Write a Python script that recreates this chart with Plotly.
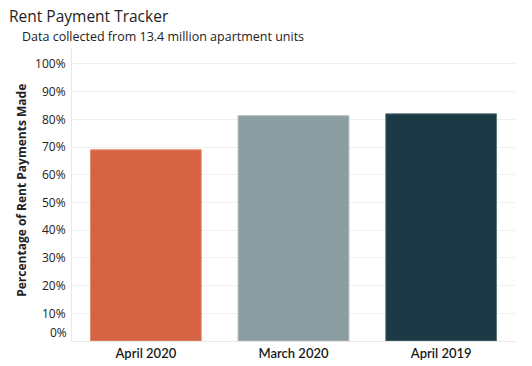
import plotly.graph_objects as go

categories = ["April 2020", "March 2020", "April 2019"]
values = [0.690, 0.813, 0.820]
bar_colors = ["#D66444", "#8C9DA1", "#1B3A45"]
bar_edge = ["#E68A6C", "#A9B6B9", "#5C7379"]
tick_values = [0.1, 0.2, 0.3, 0.4, 0.5, 0.6, 0.7, 0.8, 0.9, 1.0]
tick_labels = ["10%", "20%", "30%", "40%", "50%", "60%", "70%", "80%", "90%", "100%"]

FONT = "Open Sans, sans-serif"

fig = go.Figure(go.Bar(
    x=categories, y=values,
    marker=dict(color=bar_colors, line=dict(color=bar_edge, width=1)),
    width=0.75,
    hoverinfo="skip",
))

fig.update_layout(
    width=532, height=366,
    margin=dict(l=72, r=17, t=48, b=24.5),
    paper_bgcolor="white", plot_bgcolor="white",
    showlegend=False,
    font=dict(family=FONT, size=12, color="#333333"),
    xaxis=dict(
        automargin=False,
        showgrid=False, zeroline=False, showline=True, linecolor="#E8E8E8", linewidth=1,
        ticks="", tickfont=dict(family="Lato, Open Sans, sans-serif", size=13, color="#1a1a1a", weight=600),
        range=[-0.5, 2.5],
    ),
    yaxis=dict(
        automargin=False,
        range=[0, 1.0577], tickvals=tick_values, ticktext=tick_labels,
        showgrid=True, gridcolor="#F0F0F0", gridwidth=1,
        zeroline=False, showline=True, linecolor="#E8E8E8", linewidth=1,
        ticks="", tickfont=dict(family=FONT, size=12, color="#222222"),
        ticklabelstandoff=3,
    ),
    annotations=[
        dict(text="Rent Payment Tracker", xref="paper", yref="paper",
             x=(7 - 72) / 443, y=(341.5 - 16) / 293.5, xanchor="left", yanchor="middle",
             showarrow=False, font=dict(family=FONT, size=15.5, color="#222222")),
        dict(text="Data collected from 13.4 million apartment units", xref="paper", yref="paper",
             x=(20 - 72) / 443, y=(341.5 - 36) / 293.5, xanchor="left", yanchor="middle",
             showarrow=False, font=dict(family=FONT, size=12.5, color="#222222")),
        dict(text="<b>Percentage of Rent Payments Made</b>", xref="paper", yref="paper",
             x=(22 - 72) / 443, y=(341.5 - 191) / 293.5, xanchor="center", yanchor="middle",
             textangle=-90, showarrow=False, font=dict(family=FONT, size=12, color="#222222")),
        dict(text="0%", xref="paper", yref="y", x=0, y=0, xanchor="right", yanchor="middle",
             xshift=-3, yshift=9, showarrow=False,
             font=dict(family=FONT, size=12, color="#222222")),
    ],
)

fig.write_html("out.html", config={"displayModeBar": False},
               post_script="document.body.style.margin='0';")
